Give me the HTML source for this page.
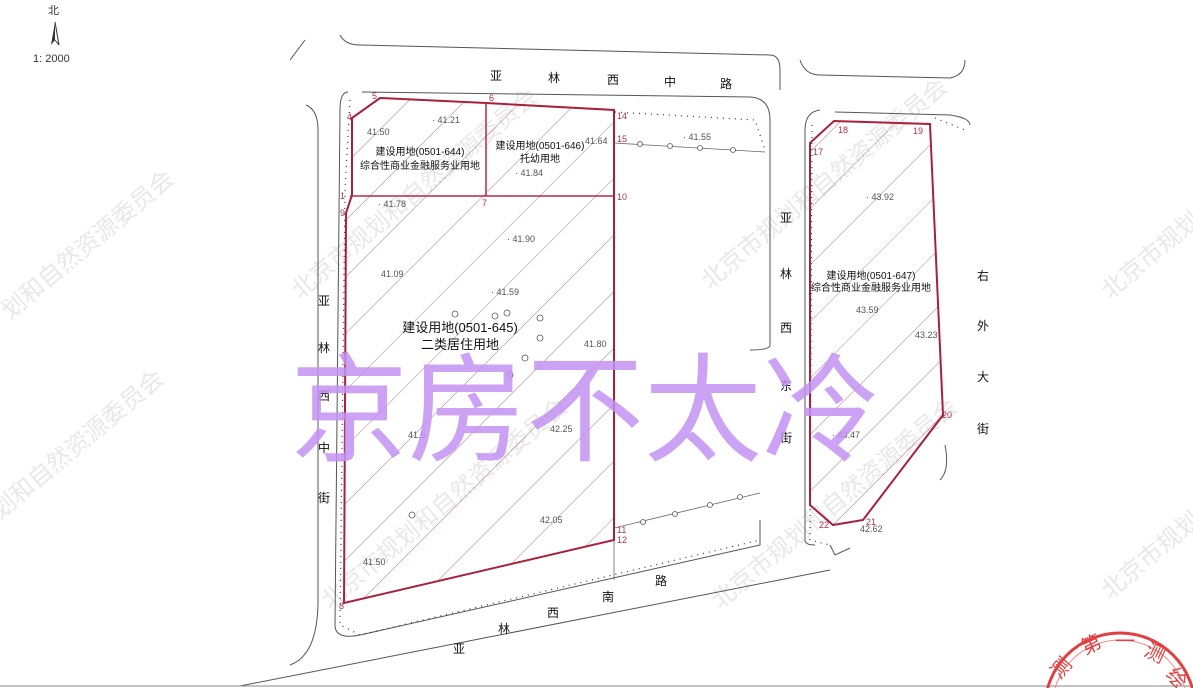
<!DOCTYPE html>
<html><head><meta charset="utf-8"><style>
html,body{margin:0;padding:0;background:#fff;width:1193px;height:688px;overflow:hidden}
svg{display:block;overflow:hidden}
text{font-family:"Liberation Sans","Noto Sans CJK SC",sans-serif}
</style></head><body>
<svg width="1193" height="688" viewBox="0 0 1193 688" xmlns="http://www.w3.org/2000/svg">
<defs>
<pattern id="h" patternUnits="userSpaceOnUse" width="40" height="40" patternTransform="rotate(-45)">
<line x1="0" y1="0" x2="40" y2="0" stroke="#b07888" stroke-width="1"/>
</pattern>
<clipPath id="c"><rect width="1193" height="688"/></clipPath>
</defs>
<g clip-path="url(#c)">
<rect width="1193" height="688" fill="#fff"/>
<g fill="#e8e8e8" font-size="24" font-family="Noto Serif CJK SC,serif">
<text transform="translate(0,520) rotate(-40)">划和自然资源委员会</text>
<text transform="translate(10,320) rotate(-40)">划和自然资源委员会</text>
<text transform="translate(300,300) rotate(-40)">北京市规划和自然资源委员会</text>
<text transform="translate(330,610) rotate(-40)">北京市规划和自然资源委员会</text>
<text transform="translate(710,290) rotate(-40)">北京市规划和自然资源委员会</text>
<text transform="translate(720,610) rotate(-40)">北京市规划和自然资源委员会</text>
<text transform="translate(1110,300) rotate(-40)">北京市规划</text>
<text transform="translate(1110,600) rotate(-40)">北京市规划</text>
</g>
<text x="48" y="14" font-size="11" fill="#333">北</text>
<path d="M55 22 L51 45 L55 40 Z" fill="#333"/><path d="M55 22 L59 45 L55 40" fill="none" stroke="#333"/>
<text x="33" y="62" font-size="11" fill="#333" font-family="Liberation Serif,serif">1: 2000</text>
<g fill="none" stroke="#555" stroke-width="1">
<path d="M290 60 L305 40"/>
<path d="M340 35 Q345 45 360 45 L770 55 Q780 55 780 70 L780 90"/>
<path d="M800 60 Q805 75 820 75 L950 78 Q965 75 965 60"/>
<path d="M306 105 Q318 110 318 130 L318 600 Q318 655 290 665"/>
<path d="M348 92 Q340 92 340 110 L335 625 Q335 640 360 635 L760 545 Q760 535 760 520"/>
<path d="M362 92 L750 97 Q770 98 770 120 L770 345 Q770 350 750 350"/>
<path d="M830 570 L240 686"/>
<path d="M820 110 Q805 112 805 130 L805 540 Q805 545 815 545"/>
<path d="M835 112 L950 115 Q970 118 970 125"/>
<path d="M945 445 Q950 470 940 480"/>
<path d="M0 686 L1193 686" stroke="#888"/>
<path d="M830 545 L835 555 L850 548"/>
</g>
<g fill="none" stroke="#333" stroke-width="1.2" stroke-dasharray="1 5">
<path d="M350 100 L345 190 L340 625 L360 635 L760 540"/>
<path d="M615 112 L755 120 L765 150"/>
<path d="M812 125 L810 540 L830 545"/>
<path d="M935 118 L965 130"/>
</g>
<path d="M352 118 L380 98 L486 103 L614 110 L614 540 L344 603 L346 213 L352 195 Z" fill="url(#h)" stroke="#a8203c" stroke-width="2"/>
<path d="M810 143 L834 121 L930 124 L943 415 L863 520 L833 525 L810 505 Z" fill="url(#h)" stroke="#a8203c" stroke-width="2"/>
<g stroke="#b8284a" stroke-width="1.5" fill="none">
<line x1="350" y1="196" x2="614" y2="196"/><line x1="486" y1="103" x2="486" y2="196"/>
</g>
<g stroke="#666" fill="none" stroke-width="0.8">
<path d="M614 143 L765 152"/><path d="M614 528 L760 493"/><path d="M614 540 L614 580"/>
</g>
<g fill="#fff" stroke="#555" stroke-width="0.8">
<circle cx="640" cy="144" r="2.5"/><circle cx="670" cy="146" r="2.5"/><circle cx="700" cy="148" r="2.5"/><circle cx="733" cy="150" r="2.5"/>
<circle cx="643" cy="522" r="2.5"/><circle cx="675" cy="514" r="2.5"/><circle cx="710" cy="505" r="2.5"/><circle cx="740" cy="497" r="2.5"/>
<circle cx="455" cy="314" r="3"/><circle cx="495" cy="316" r="3"/><circle cx="507" cy="313" r="3"/><circle cx="540" cy="318" r="3"/><circle cx="540" cy="338" r="3"/><circle cx="525" cy="358" r="3"/><circle cx="510" cy="375" r="3"/><circle cx="412" cy="515" r="3"/>
</g>
<g fill="#b0304a" font-size="9" font-family="Liberation Serif,serif">
<text x="372" y="99">5</text><text x="489" y="101">6</text><text x="347" y="120">4</text><text x="617" y="119">14</text><text x="617" y="142">15</text><text x="617" y="200">10</text><text x="482" y="206">7</text><text x="340" y="199">1</text><text x="340" y="216">9</text><text x="617" y="533">11</text><text x="617" y="543">12</text><text x="339" y="609">8</text>
<text x="838" y="133">18</text><text x="913" y="134">19</text><text x="813" y="155">17</text><text x="942" y="418">20</text><text x="866" y="525">21</text><text x="819" y="528">22</text>
</g>
<g fill="#555" font-size="9">
<text x="432" y="123">· 41.21</text><text x="367" y="135">41.50</text><text x="585" y="144">41.64</text><text x="683" y="140">· 41.55</text>
<text x="515" y="176">· 41.84</text><text x="378" y="207">· 41.78</text><text x="507" y="242">· 41.90</text><text x="381" y="277">41.09</text>
<text x="491" y="295">· 41.59</text><text x="584" y="347">41.80</text><text x="550" y="432">42.25</text><text x="408" y="438">41.5</text>
<text x="540" y="523">42.05</text><text x="363" y="565">41.50</text><text x="866" y="200">· 43.92</text><text x="856" y="313">43.59</text>
<text x="915" y="338">43.23</text><text x="832" y="438">· 43.47</text><text x="860" y="532">42.62</text>
</g>
<g fill="#111" text-anchor="middle">
<text x="420" y="155" font-size="10">建设用地(0501-644)</text>
<text x="420" y="169" font-size="10">综合性商业金融服务业用地</text>
<text x="540" y="149" font-size="10">建设用地(0501-646)</text>
<text x="540" y="162" font-size="10">托幼用地</text>
<text x="460" y="332" font-size="13">建设用地(0501-645)</text>
<text x="460" y="349" font-size="13">二类居住用地</text>
<text x="871" y="279" font-size="10">建设用地(0501-647)</text>
<text x="871" y="291" font-size="10">综合性商业金融服务业用地</text>
</g>
<g fill="#111" font-size="12">
<text x="490" y="80">亚</text><text x="548" y="82">林</text><text x="607" y="84">西</text><text x="664" y="86">中</text><text x="720" y="88">路</text>
<text x="318" y="305">亚</text><text x="318" y="352">林</text><text x="318" y="400">西</text><text x="318" y="452">中</text><text x="318" y="502">街</text>
<text x="780" y="222">亚</text><text x="780" y="278">林</text><text x="780" y="332">西</text><text x="780" y="390">东</text><text x="780" y="442">街</text>
<text x="977" y="280">右</text><text x="977" y="330">外</text><text x="977" y="381">大</text><text x="977" y="433">街</text>
<text x="453" y="653">亚</text><text x="498" y="633">林</text><text x="547" y="617">西</text><text x="602" y="601">南</text><text x="655" y="585">路</text>
</g>
<circle cx="1120" cy="708" r="75" fill="none" stroke="#e04040" stroke-width="3"/>
<circle cx="1120" cy="708" r="68" fill="none" stroke="#e88" stroke-width="1"/>
<g fill="#e04040" font-size="20">
<text transform="translate(1060,680) rotate(-50)">测</text><text transform="translate(1085,655) rotate(-25)">第</text><text transform="translate(1115,648) rotate(0)">一</text><text transform="translate(1143,655) rotate(25)">测</text><text transform="translate(1165,675) rotate(50)">绘</text>
</g>
<text x="290" y="452" font-size="118" fill="#c292f2" fill-opacity="0.85" font-family="Noto Serif CJK SC,serif">京房不太冷</text>
</g>
</svg>
</body></html>
